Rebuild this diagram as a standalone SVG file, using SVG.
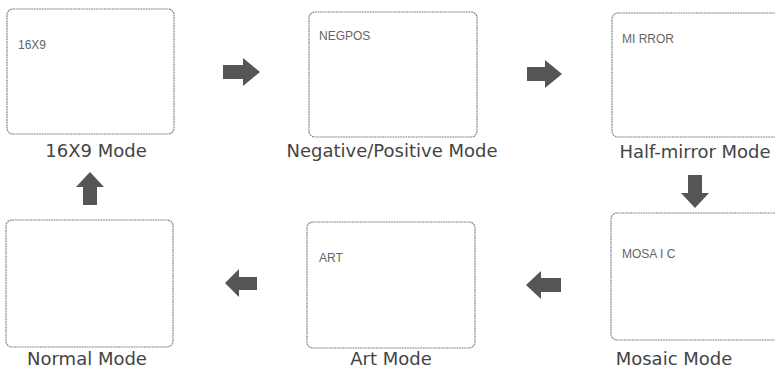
<svg xmlns="http://www.w3.org/2000/svg" width="775" height="370" viewBox="0 0 775 370">
<style>
.box{fill:#fff;stroke:#8a8a8a;stroke-width:1.2;stroke-dasharray:2 0.6}
.screen{font-family:"Liberation Sans",Arial,sans-serif;font-size:12px;fill:#666}
.label{font-family:"DejaVu Sans","Liberation Sans",sans-serif;font-size:18px;fill:#444;text-anchor:middle}
.arrow{fill:#555}
</style>
<rect width="775" height="370" fill="#fff"/>
<g id="node-16x9">
<rect class="box" x="7" y="9" width="167" height="125" rx="6"/>
<text class="screen" x="18" y="49">16X9</text>
<text class="label" x="96" y="157">16X9 Mode</text>
</g>
<g id="node-negpos">
<rect class="box" x="309" y="12" width="168" height="125" rx="6"/>
<text class="screen" x="319" y="40">NEGPOS</text>
<text class="label" x="392" y="157">Negative/Positive Mode</text>
</g>
<g id="node-mirror">
<rect class="box" x="612" y="13" width="175" height="124" rx="6"/>
<text class="screen" x="622" y="43">MI RROR</text>
<text class="label" x="695" y="158">Half-mirror Mode</text>
</g>
<g id="node-normal">
<rect class="box" x="6" y="220" width="167" height="127" rx="6"/>
<text class="label" x="87" y="365">Normal Mode</text>
</g>
<g id="node-art">
<rect class="box" x="307" y="222" width="168" height="126" rx="6"/>
<text class="screen" x="319" y="262">ART</text>
<text class="label" x="391" y="365">Art Mode</text>
</g>
<g id="node-mosaic">
<rect class="box" x="611" y="213" width="176" height="127" rx="6"/>
<text class="screen" x="622" y="258">MOSA I C</text>
<text class="label" x="674" y="365">Mosaic Mode</text>
</g>
<g id="connectors">
<polygon class="arrow" points="223,65 243,65 243,58 260,72 243,86 243,79 223,79"/>
<polygon class="arrow" points="527,67 545,67 545,60 562,74 545,88 545,81 527,81"/>
<polygon class="arrow" points="688,175 702,175 702,193 709,193 695,208 681,193 688,193"/>
<polygon class="arrow" points="257,277 239,277 239,269 225,283 239,297 239,290 257,290"/>
<polygon class="arrow" points="561,278 541,278 541,271 526,285 541,299 541,292 561,292"/>
<polygon class="arrow" points="83,205 97,205 97,187 104,187 90,172 76,187 83,187"/>
</g>
</svg>
